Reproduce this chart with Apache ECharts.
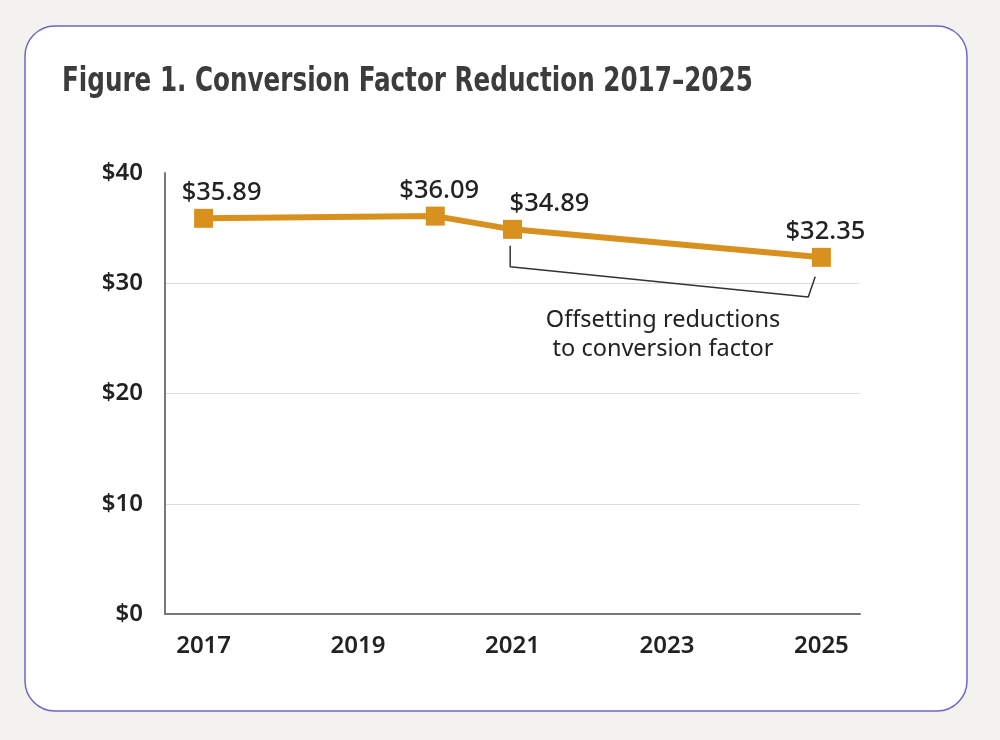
<!DOCTYPE html>
<html>
<head>
<meta charset="utf-8">
<script src="https://cdn.jsdelivr.net/npm/echarts@6/dist/echarts.min.js"></script>
<style>
  html, body { margin: 0; padding: 0; background: #f4f2ef; }
  #chart { width: 1000px; height: 740px; }
</style>
</head>
<body>
<div id="chart"></div>
<script>
// data
var years = [2017, 2020, 2021, 2025];
var values = [35.89, 36.09, 34.89, 32.35];
var yearTicks = [2017, 2019, 2021, 2023, 2025];
// bracket under 2021-2025 segment, in data units [year, $]
var bracketX = [2020.97, 2020.97, 2024.83, 2024.92];
var bracketY = [33.4, 31.5, 28.75, 30.6];
var noteLines = ['Offsetting reductions', 'to conversion factor'];
var titleText = 'Figure 1. Conversion Factor Reduction 2017\u20132025';

var colors = {
    line: '#d8911f',
    text: '#222222',
    title: '#3c3c3c',
    axis: '#777777',
    grid: '#dddddd',
    border: '#6e67c4'
};
// label offsets per point [dx, dy]
var labelOffsets = [[18, 0], [4, 0], [37, 0], [4, 0]];

var chart = echarts.init(document.getElementById('chart'));

var lineData = years.map(function (y, i) {
    return {
        value: [y, values[i]],
        label: { offset: labelOffsets[i] }
    };
});
var bracketData = bracketX.map(function (x, i) { return [x, bracketY[i]]; });

var option = {
    backgroundColor: '#f4f2ef',
    animation: false,
    graphic: [{
        type: 'rect',
        z: -10,
        shape: { x: 25, y: 26, width: 942, height: 685, r: 30 },
        style: { fill: '#ffffff', stroke: colors.border, lineWidth: 1.5 }
    }, {
        // condensed heading: squeeze the bold face horizontally
        type: 'text',
        x: 62,
        y: 66,
        scaleX: 0.83,
        style: {
            text: titleText,
            fontFamily: '"DejaVu Sans Condensed", Roboto, sans-serif',
            fontWeight: 'bold',
            fontSize: 33,
            fill: colors.title
        }
    }, {
        type: 'text',
        x: 663,
        y: 306,
        style: {
            text: noteLines.join('\n'),
            align: 'center',
            fontFamily: '"Noto Sans", sans-serif',
            fontSize: 23.5,
            lineHeight: 29,
            fill: colors.text
        }
    }],
    grid: { left: 165, right: 140, top: 173, bottom: 126 },
    xAxis: {
        type: 'value',
        min: 2016.5,
        max: 2025.5,
        axisLine: { lineStyle: { color: colors.axis, width: 2 } },
        axisTick: { show: false },
        splitLine: { show: false },
        axisLabel: {
            customValues: yearTicks,
            margin: 20,
            fontFamily: '"Noto Sans", sans-serif',
            fontWeight: 600,
            fontSize: 24,
            color: colors.text,
            formatter: function (v) { return String(v); }
        }
    },
    yAxis: {
        type: 'value',
        min: 0,
        max: 40,
        interval: 10,
        axisLine: { show: true, lineStyle: { color: colors.axis, width: 2 } },
        axisTick: { show: false },
        splitLine: {
            lineStyle: { color: colors.grid, width: 1 },
            showMaxLine: false
        },
        axisLabel: {
            margin: 22,
            fontFamily: '"Noto Sans", sans-serif',
            fontWeight: 600,
            fontSize: 24,
            color: colors.text,
            formatter: function (v) { return '$' + v; }
        }
    },
    series: [{
        type: 'line',
        data: lineData,
        symbol: 'rect',
        symbolSize: 19,
        lineStyle: { color: colors.line, width: 6 },
        itemStyle: { color: colors.line },
        label: {
            show: true,
            position: 'top',
            distance: 3,
            fontFamily: '"Noto Sans", sans-serif',
            fontWeight: 500,
            fontSize: 25.5,
            color: colors.text,
            formatter: function (p) { return '$' + p.value[1].toFixed(2); }
        },
        z: 3
    }, {
        type: 'line',
        data: bracketData,
        symbol: 'none',
        lineStyle: { color: '#333333', width: 1.5 },
        silent: true,
        z: 2
    }]
};

chart.setOption(option);
</script>
</body>
</html>
